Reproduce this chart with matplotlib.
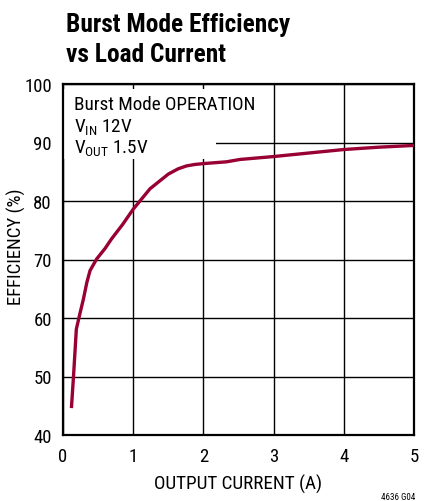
import matplotlib
matplotlib.use('Agg')
import matplotlib.pyplot as plt
from matplotlib import font_manager
from matplotlib.patches import Rectangle

# pick a condensed sans (the original uses Helvetica Condensed)
names = set(f.name for f in font_manager.fontManager.ttflist)
FONT = 'DejaVu Sans'
for cand in ['Roboto Condensed', 'Archivo Narrow', 'PT Sans Narrow', 'Liberation Sans']:
    if cand in names:
        FONT = cand
        break
plt.rcParams['font.family'] = [FONT, 'DejaVu Sans']
plt.rcParams['mathtext.fontset'] = 'custom'
plt.rcParams['mathtext.rm'] = FONT

# data
current = [0.12, 0.15, 0.19, 0.24, 0.29, 0.34, 0.385, 0.48, 0.6, 0.69,
           0.85, 1.0, 1.24, 1.5, 1.64, 1.76, 1.88, 2.01, 2.33, 2.52,
           3.0, 3.5, 4.0, 4.5, 5.0]
efficiency = [44.6, 50.1, 58.1, 60.7, 63.2, 66.1, 68.1, 70.1, 71.9, 73.5,
              76.0, 78.6, 82.1, 84.6, 85.5, 86.0, 86.25, 86.4, 86.7, 87.1,
              87.6, 88.2, 88.8, 89.2, 89.5]
x_ticks = [0, 1, 2, 3, 4, 5]
y_ticks = [40, 50, 60, 70, 80, 90, 100]
note_lines = ['Burst Mode OPERATION',
              'V$_{\\mathregular{IN}}$ 12V',
              'V$_{\\mathregular{OUT}}$ 1.5V']

W, H = 426, 502
fig = plt.figure(figsize=(W / 100, H / 100), dpi=100)
ax = fig.add_axes([63 / W, 66 / H, 351 / W, 351 / H])

ax.plot(current, efficiency, color='#990033', linewidth=2.4,
        solid_capstyle='butt', zorder=4)

ax.set_xlim(0, 5)
ax.set_ylim(40, 100)
ax.set_xticks(x_ticks)
ax.set_yticks(y_ticks)
ax.tick_params(length=0, labelsize=13.5)
ax.tick_params(axis='x', pad=9)
ax.tick_params(axis='y', pad=8)
ax.grid(True, color='black', linewidth=1.0)
ax.set_axisbelow(True)
for s in ax.spines.values():
    s.set_linewidth(1.6)

ax.set_xlabel('OUTPUT CURRENT (A)', fontsize=13.8, labelpad=6)
ax.set_ylabel('EFFICIENCY (%)', fontsize=13.5)
ax.yaxis.set_label_coords(-0.105, 0.538)

# white area behind the note (grid is cut there in the original)
ax.add_patch(Rectangle((0, 87.2), 2.18, 11.95, facecolor='white',
                       edgecolor='none', zorder=2))
for i, line in enumerate(note_lines):
    fig.text(74 / W, 1 - (110.5 + 21.8 * i) / H, line, fontsize=13.8,
             va='baseline', ha='left', zorder=3)

# title, two lines
fig.text(66 / W, 1 - 32 / H, 'Burst Mode Efficiency', fontsize=18.3,
         fontweight='bold', va='baseline', ha='left')
fig.text(66 / W, 1 - 62 / H, 'vs Load Current', fontsize=18.3,
         fontweight='bold', va='baseline', ha='left')
fig.text(415 / W, 1 - 498 / H, '4636 G04', fontsize=6.5,
         ha='right', va='center')

plt.savefig('out.png', dpi=100)
